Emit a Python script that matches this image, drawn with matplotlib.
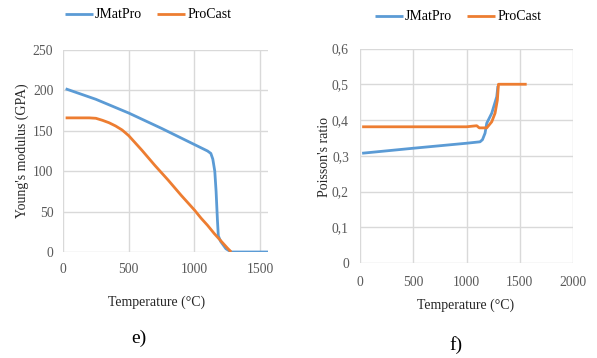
import matplotlib
matplotlib.use("Agg")
import matplotlib.pyplot as plt

# ---- data: Young's modulus (left, e) ----
ym_jmat_T = [20, 250, 500, 750, 1000, 1100, 1125, 1140, 1155, 1165, 1175, 1182, 1200, 1240, 1280, 1560]
ym_jmat_E = [202, 189, 172, 153, 133, 125, 122, 115, 100, 75, 40, 20, 13, 4, 0, 0]
ym_pro_T = [20, 200, 250, 300, 350, 400, 450, 500, 550, 600, 700, 800, 900, 1000, 1050, 1100, 1150, 1200, 1250, 1280]
ym_pro_E = [166, 166, 165.5, 163, 160, 156, 151, 144, 135, 126, 107, 89, 70, 52, 42, 33, 23, 14, 5, 0]

# ---- data: Poisson's ratio (right, f) ----
pr_jmat_T = [20, 500, 1000, 1127, 1150, 1174, 1190, 1237, 1284, 1295]
pr_jmat_v = [0.307, 0.321, 0.335, 0.339, 0.345, 0.363, 0.391, 0.419, 0.465, 0.495]
pr_pro_T = [20, 500, 1000, 1096, 1120, 1190, 1237, 1268, 1290, 1300, 1565]
pr_pro_v = [0.381, 0.381, 0.381, 0.384, 0.378, 0.378, 0.395, 0.419, 0.456, 0.500, 0.500]

left_xticks = [0, 500, 1000, 1500]
left_yticks = [0, 50, 100, 150, 200, 250]
right_xticks = [0, 500, 1000, 1500, 2000]
right_yticks = [0, 0.1, 0.2, 0.3, 0.4, 0.5, 0.6]
right_yticklabels = ["0", "0,1", "0,2", "0,3", "0,4", "0,5", "0,6"]

BLUE = "#5B9BD5"
ORANGE = "#ED7D31"
GRID = "#D9D9D9"
TICK = "#595959"
FONT = "Liberation Serif"

plt.rcParams["font.family"] = FONT

W, H = 597, 358
fig = plt.figure(figsize=(W / 100, H / 100), dpi=100)


def px_axes(l, t, r, b):
    return fig.add_axes([l / W, 1 - b / H, (r - l) / W, (b - t) / H])


def style(ax, xticks, yticks, xpad, ypad):
    for s in ax.spines.values():
        s.set_visible(False)
    ax.set_xticks(xticks)
    ax.set_yticks(yticks)
    ax.grid(True, color=GRID, linewidth=1.0)
    ax.set_axisbelow(True)
    ax.tick_params(length=0, labelsize=9.8, labelcolor=TICK)
    ax.tick_params(axis="x", pad=xpad)
    ax.tick_params(axis="y", pad=ypad)


# Left chart
ax1 = px_axes(63, 50, 268, 252)
ax1.plot(ym_jmat_T, ym_jmat_E, color=BLUE, lw=2.0, label="JMatPro", solid_capstyle="butt")
ax1.plot(ym_pro_T, ym_pro_E, color=ORANGE, lw=2.0, label="ProCast", solid_capstyle="butt")
ax1.set_xlim(0, 1560)
ax1.set_ylim(0, 250)
style(ax1, left_xticks, left_yticks, 8, 7)
ax1.set_xticklabels([str(t) for t in left_xticks])
ax1.set_yticklabels([str(t) for t in left_yticks])
ax1.legend(loc="center", bbox_to_anchor=(148 / W, 1 - 15 / H), bbox_transform=fig.transFigure,
           ncol=2, frameon=False, fontsize=10, handlelength=2.0, columnspacing=1.1,
           handletextpad=0.15, borderpad=0)

# Right chart
ax2 = px_axes(360, 48.5, 573, 263)
ax2.plot(pr_jmat_T, pr_jmat_v, color=BLUE, lw=2.0, label="JMatPro", solid_capstyle="butt")
ax2.plot(pr_pro_T, pr_pro_v, color=ORANGE, lw=2.0, label="ProCast", solid_capstyle="butt")
ax2.set_xlim(0, 2000)
ax2.set_ylim(0, 0.6)
style(ax2, right_xticks, right_yticks, 9, 8)
ax2.set_xticklabels([str(t) for t in right_xticks])
ax2.set_yticklabels(right_yticklabels)
ax2.legend(loc="center", bbox_to_anchor=(458 / W, 1 - 17 / H), bbox_transform=fig.transFigure,
           ncol=2, frameon=False, fontsize=10, handlelength=2.0, columnspacing=1.1,
           handletextpad=0.15, borderpad=0)

# Axis labels
fig.text(157 / W, 1 - 302 / H, "Temperature (°C)", ha="center", va="center", fontsize=10, color="#262626")
fig.text(466 / W, 1 - 305 / H, "Temperature (°C)", ha="center", va="center", fontsize=10, color="#262626")
fig.text(22 / W, 1 - 151 / H, "Young's modulus (GPA)", ha="center", va="center", rotation=90,
         fontsize=10, color="#262626")
fig.text(325 / W, 1 - 157 / H, "Poisson's ratio", ha="center", va="center", rotation=90,
         fontsize=10, color="#262626")

# Panel labels
fig.text(139 / W, 1 - 338 / H, "e)", ha="center", va="center", fontsize=14, color="black")
fig.text(456 / W, 1 - 345 / H, "f)", ha="center", va="center", fontsize=14, color="black")

fig.savefig("out.png", dpi=100, facecolor="white")
